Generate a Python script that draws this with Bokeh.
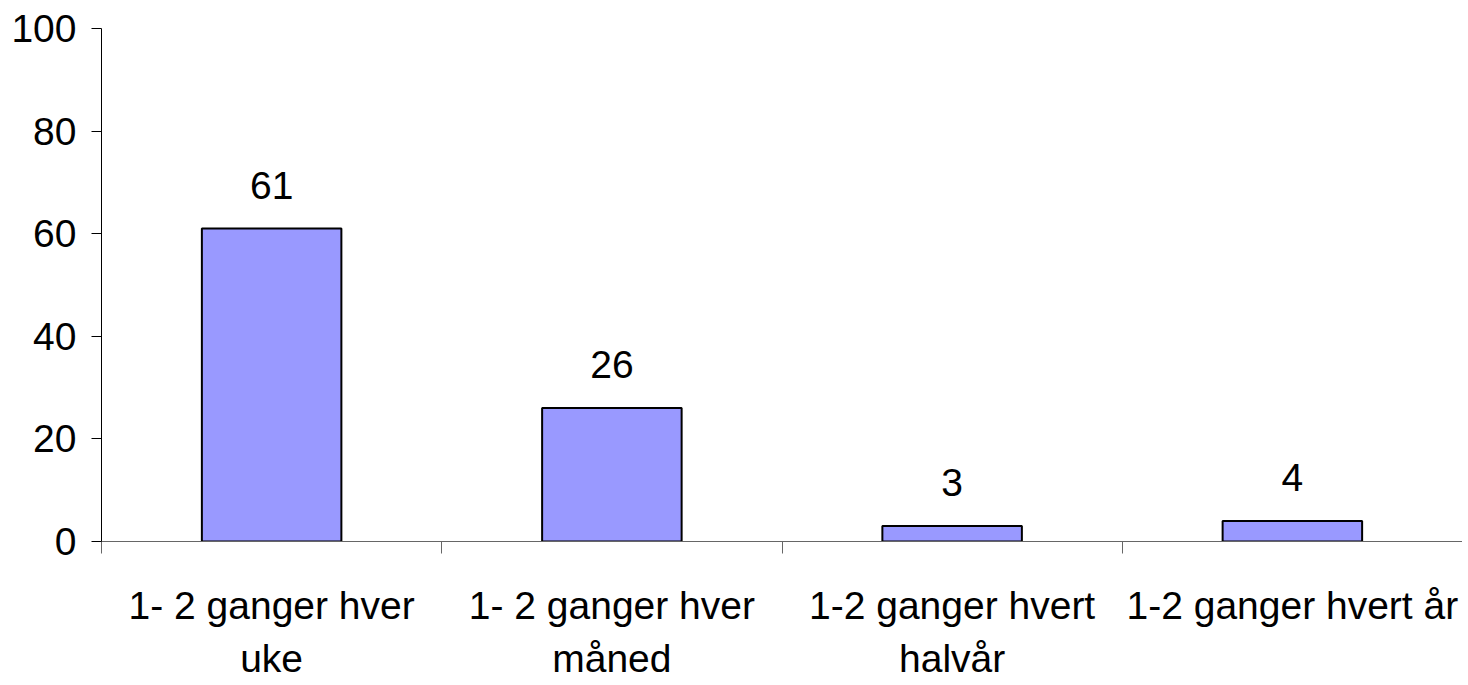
from bokeh.plotting import figure
from bokeh.models import ColumnDataSource, Range1d, FixedTicker
from bokeh.core.properties import value
from bokeh.embed import file_html
from bokeh.resources import INLINE

categories = ["1- 2 ganger hver\nuke", "1- 2 ganger hver\nmåned",
              "1-2 ganger hvert\nhalvår", "1-2 ganger hvert år"]
values = [61, 26, 3, 4]
y_ticks = [0, 20, 40, 60, 80, 100]

FONT = "Liberation Sans"
FS = "39px"

xs = [i + 0.5 for i in range(len(categories))]
src = ColumnDataSource(dict(x=xs, top=values, lab=[str(v) for v in values]))

p = figure(width=1462, height=683, output_backend="svg", toolbar_location=None,
           x_range=Range1d(0, len(categories)), y_range=Range1d(0, 100),
           min_border_left=101, min_border_right=0, min_border_top=28, min_border_bottom=142)
p.outline_line_color = None
p.xgrid.grid_line_color = None
p.ygrid.grid_line_color = None
p.background_fill_color = "white"

p.vbar(x="x", top="top", width=0.41, source=src, fill_color="#9999FF",
       line_color="black", line_width=2)
p.text(x="x", y="top", text="lab", source=src, y_offset=-30,
       text_align="center", text_baseline="bottom",
       text_font=value(FONT), text_font_size=FS, text_color="black")

# y axis
ya = p.yaxis[0]
ya.ticker = FixedTicker(ticks=y_ticks, minor_ticks=[])
ya.axis_line_color = "black"
ya.axis_line_width = 1
ya.major_tick_line_color = "black"
ya.major_tick_out = 10
ya.major_tick_in = 0
ya.major_label_standoff = 15
ya.major_label_text_font = FONT
ya.major_label_text_font_size = FS
ya.major_label_text_color = "black"

# x axis
xa = p.xaxis[0]
xa.ticker = FixedTicker(ticks=xs, minor_ticks=list(range(len(categories) + 1)))
xa.major_label_overrides = {x: c for x, c in zip(xs, categories)}
xa.axis_line_color = "#666666"
xa.major_tick_line_color = None
xa.minor_tick_line_color = "#666666"
xa.minor_tick_out = 12
xa.minor_tick_in = 0
xa.major_label_standoff = 30
xa.major_label_text_font = FONT
xa.major_label_text_font_size = FS
xa.major_label_text_color = "black"
xa.major_label_text_line_height = 1.25

open("out.html", "w").write(file_html(p, INLINE))
